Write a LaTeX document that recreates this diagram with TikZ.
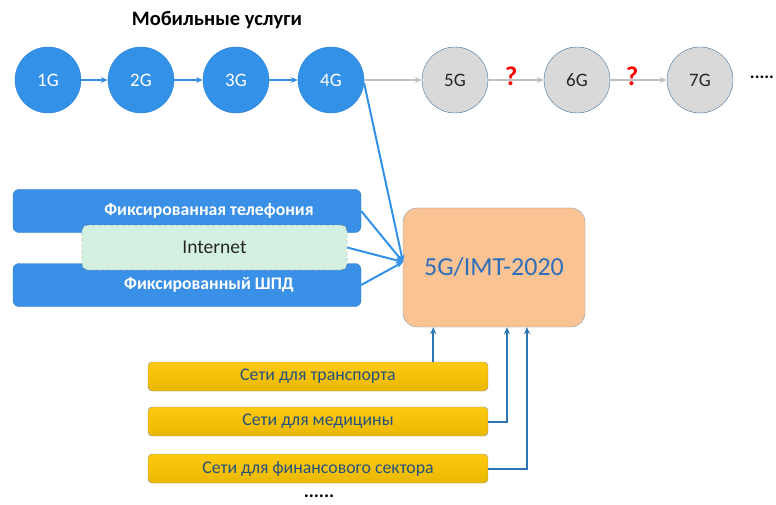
\documentclass[tikz,border=0pt]{standalone}
\usepackage{fontspec}
\setmainfont{Carlito}
\usetikzlibrary{arrows.meta}
\definecolor{genblue}{HTML}{3391E8}
\definecolor{genedge}{HTML}{2C7FD2}
\definecolor{futgray}{HTML}{D9D9D9}
\definecolor{futedge}{HTML}{41719C}
\definecolor{fixblue}{HTML}{3A90E6}
\definecolor{netgreen}{HTML}{D3F0E0}
\definecolor{imtorange}{HTML}{F9C394}
\definecolor{imtedge}{HTML}{8C9DB0}
\definecolor{imttext}{HTML}{2F6EBA}
\definecolor{sectext}{HTML}{24527F}
\definecolor{secedge}{HTML}{8A96A0}
\definecolor{sectop}{HTML}{FFCA10}
\definecolor{secbot}{HTML}{E9B800}
\definecolor{linkblue}{HTML}{2E75B6}
\begin{document}
\begin{tikzpicture}[x=1pt,y=-1pt,
 gen/.style={circle,draw=genedge,fill=genblue,minimum size=66pt,inner sep=0pt,text=white,font=\fontsize{19}{21}\selectfont},
 fut/.style={gen,draw=futedge,fill=futgray,text=black!85},
 fixbox/.style={rectangle,rounded corners=6pt,draw=genedge,fill=fixblue,minimum width=348pt,minimum height=43pt,text=white,font=\bfseries\fontsize{17.7}{19}\selectfont},
 netbox/.style={rectangle,rounded corners=6pt,draw=black!60,dashed,fill=netgreen,minimum width=265pt,minimum height=45pt,text=black!85,font=\fontsize{19.5}{21}\selectfont},
 secbox/.style={rectangle,rounded corners=4pt,draw=secedge,top color=sectop,bottom color=secbot,minimum width=340pt,minimum height=29pt,text=sectext,font=\fontsize{17.8}{19}\selectfont},
 conn/.style={genblue,line width=2pt,-{Stealth[length=7pt,width=6pt]}},
 grayconn/.style={black!25,line width=2pt,-{Stealth[length=7pt,width=6pt]}},
 link/.style={linkblue,line width=2pt,-{Stealth[length=7pt,width=6pt]}}]
 \useasboundingbox (0,0) rectangle (776,505);
 \node[font=\bfseries\fontsize{20.5}{22}\selectfont] (title) at (217,20) {Мобильные услуги};
 \node[gen] (g1) at (48,80) {1G};
 \node[gen] (g2) at (141,80) {2G};
 \node[gen] (g3) at (236,80) {3G};
 \node[gen] (g4) at (331,80) {4G};
 \node[fut] (g5) at (455,80) {5G};
 \node[fut] (g6) at (577,80) {6G};
 \node[fut] (g7) at (700,80) {7G};
 \node[inner sep=0pt,font=\bfseries\fontsize{18}{20}\selectfont] (more) at (762,77) {.....};
 \draw[conn] (g1) -- (g2);
 \draw[conn] (g2) -- (g3);
 \draw[conn] (g3) -- (g4);
 \draw[grayconn] (g4) -- (g5);
 \draw[grayconn] (g5) -- (g6);
 \draw[grayconn] (g6) -- (g7);
 \node[red,font=\bfseries\fontsize{27}{29}\selectfont] (q1) at (511,76) {?};
 \node[red,font=\bfseries\fontsize{27}{29}\selectfont] (q2) at (632,76) {?};
 \node[fixbox] (tel) at (187,211) {\hspace*{44pt}Фиксированная телефония};
 \node[fixbox] (shpd) at (187,285) {\hspace*{44pt}Фиксированный ШПД};
 \node[netbox] (inet) at (214.5,247.5) {Internet};
 \node[rectangle,rounded corners=14pt,draw=imtedge,fill=imtorange,minimum width=182pt,minimum height=119pt,text=imttext,font=\fontsize{26}{28}\selectfont] (imt) at (494,267.5) {5G/IMT-2020};
 \coordinate (hub) at (403,262);
 \draw[conn] (g4.-5) -- (hub);
 \draw[conn] (tel.east) -- (hub);
 \draw[conn] (inet.east) -- (hub);
 \draw[conn] (shpd.east) -- (hub);
 \node[secbox] (trans) at (318,376.5) {Сети для транспорта};
 \node[secbox] (med) at (318,421.5) {Сети для медицины};
 \node[secbox] (fin) at (318,468.5) {Сети для финансового сектора};
 \node[font=\bfseries\fontsize{19}{21}\selectfont] (etc) at (319,496) {......};
 \draw[link] ([xshift=-55pt]trans.north east) -- ([xshift=-55pt]trans.north east |- imt.south);
 \draw[link] (med.east) -| ([xshift=13pt]imt.south);
 \draw[link] (fin.east) -| ([xshift=33pt]imt.south);
\end{tikzpicture}
\end{document}
